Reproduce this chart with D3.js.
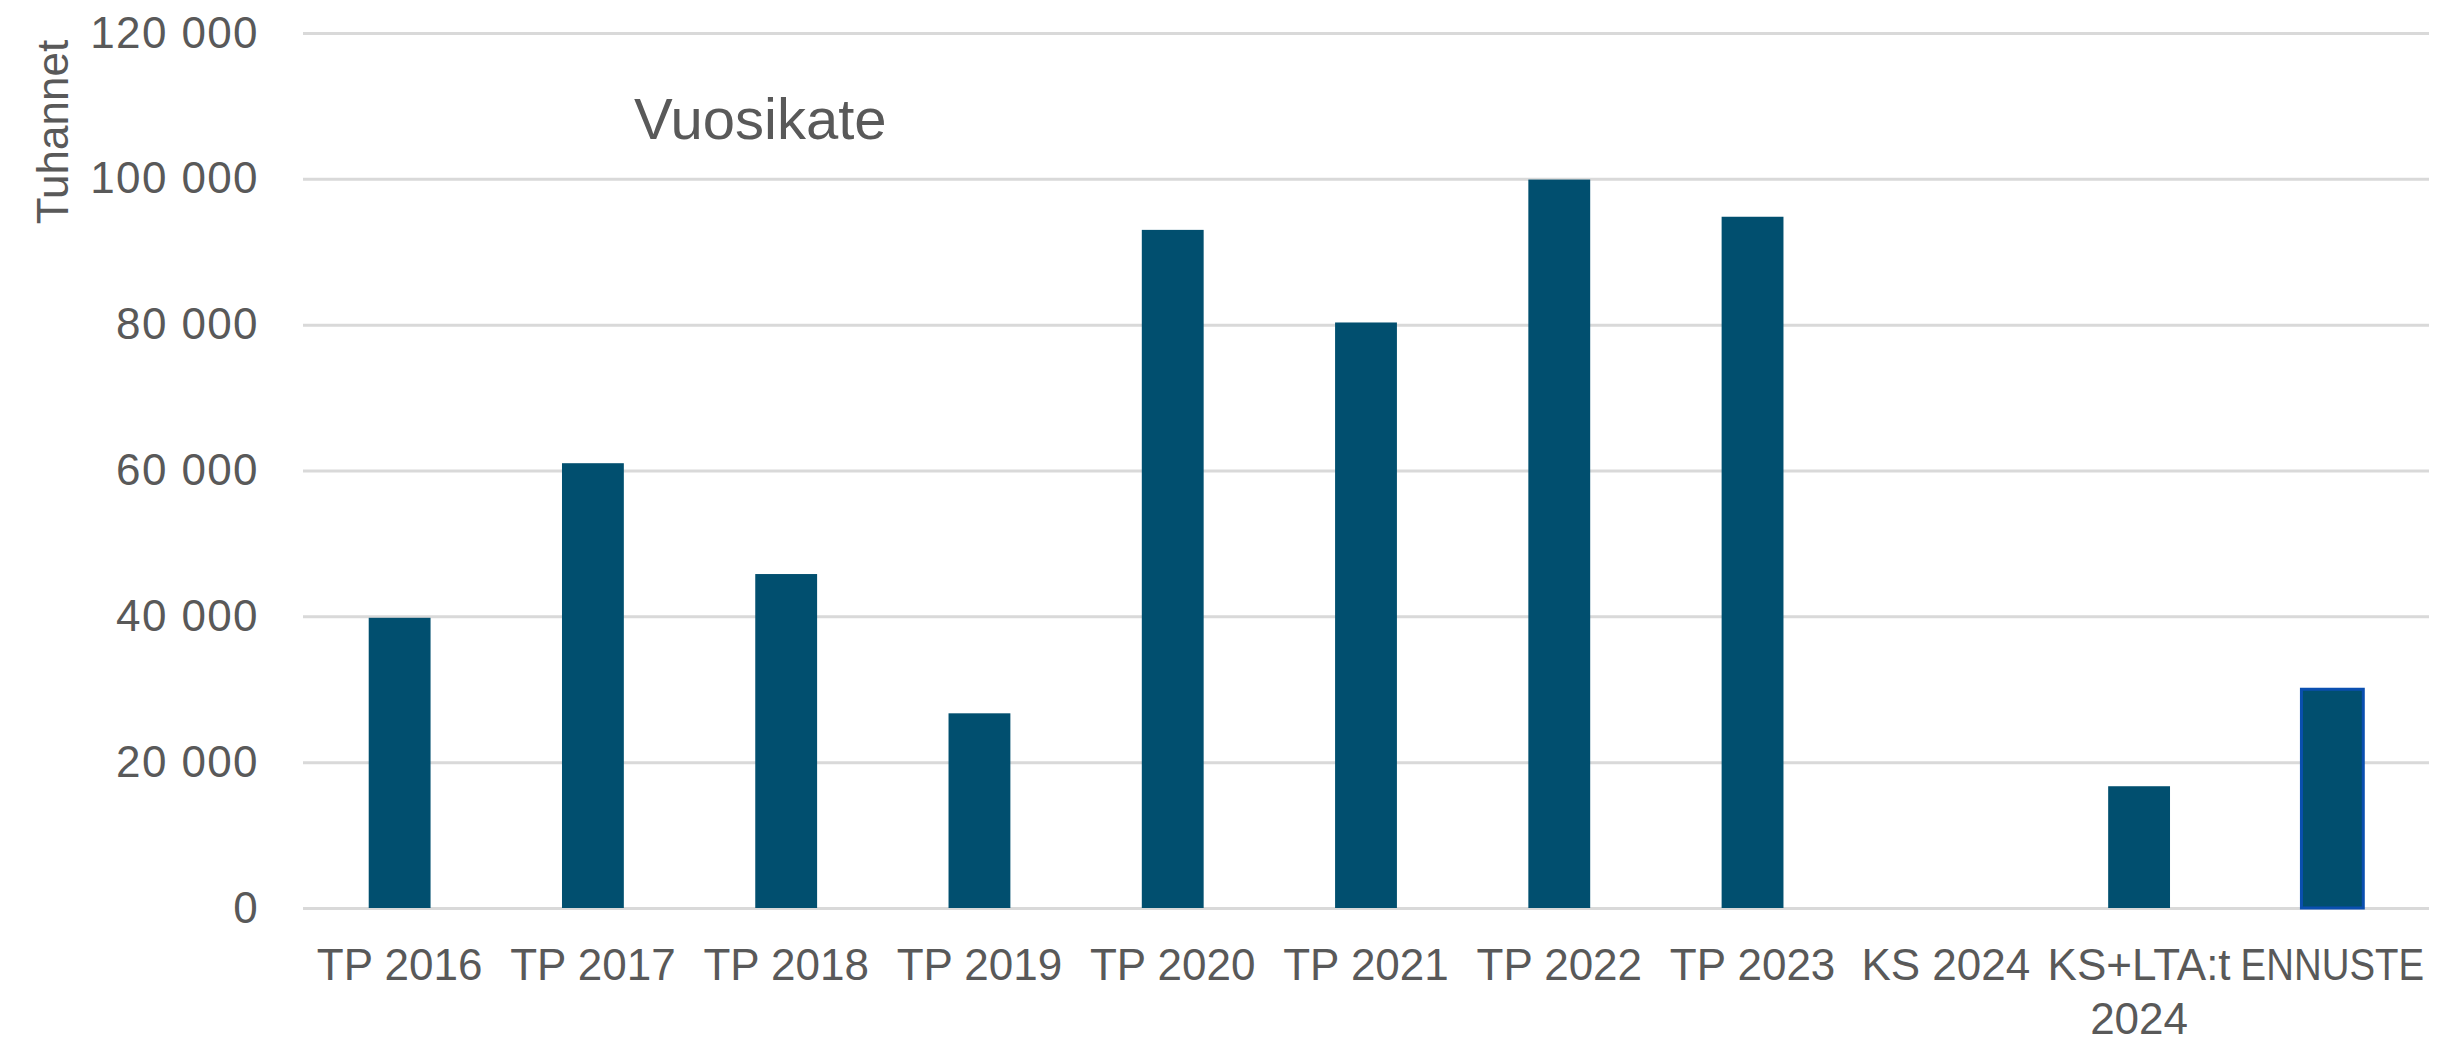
<!DOCTYPE html>
<html lang="fi">
<head>
<meta charset="utf-8">
<title>Vuosikate</title>
<script src="https://cdn.jsdelivr.net/npm/d3@7"></script>
<style>
  body { margin: 0; background: #fff; }
  text { font-family: "Liberation Sans", Arial, sans-serif; fill: #595959; }
  .grid line { stroke: #d9d9d9; stroke-width: 3; }
  .grid .domain { display: none; }
</style>
</head>
<body>
<div id="chart"></div>
<script>
// data (tuhatta euroa)
var categories = ["TP 2016", "TP 2017", "TP 2018", "TP 2019", "TP 2020", "TP 2021",
                  "TP 2022", "TP 2023", "KS 2024", "KS+LTA:t 2024", "ENNUSTE"];
var values = [39800, 61000, 45800, 26700, 93000, 80300, 99900, 94800, null, 16700, 30000];
var yTicks = [0, 20000, 40000, 60000, 80000, 100000, 120000];
var highlighted = ["ENNUSTE"];

var w = 2438, h = 1043;
var margin = {left: 303, right: 9, top: 33, bottom: 135};

var svg = d3.select("#chart").append("svg")
  .attr("width", w).attr("height", h);

var x = d3.scaleBand()
  .domain(categories)
  .range([margin.left, w - margin.right])
  .paddingInner(0.68)
  .paddingOuter(0.34);

var y = d3.scaleLinear()
  .domain([0, 120000])
  .range([h - margin.bottom, margin.top]);

var fmt = function(d) { return d3.format(",")(d).replace(/,/g, " "); };

// gridlines + y labels
var grid = svg.append("g")
  .attr("class", "grid")
  .attr("transform", "translate(" + margin.left + ",0)")
  .call(d3.axisLeft(y).tickValues(yTicks)
    .tickSize(-(w - margin.left - margin.right))
    .tickPadding(44)
    .tickFormat(fmt));
grid.selectAll("text")
  .style("font-size", "44px")
  .style("letter-spacing", "1.4px")
  .attr("fill", "#595959");

// bars
svg.append("g").selectAll("rect")
  .data(categories.map(function(c, i) { return {cat: c, val: values[i]}; })
        .filter(function(d) { return d.val != null; }))
  .enter().append("rect")
  .attr("x", function(d) { return x(d.cat); })
  .attr("y", function(d) { return y(d.val); })
  .attr("width", x.bandwidth())
  .attr("height", function(d) { return y(0) - y(d.val); })
  .attr("fill", "#014f6f")
  .attr("stroke", function(d) { return highlighted.indexOf(d.cat) >= 0 ? "#0a4fb0" : "none"; })
  .attr("stroke-width", 3);

// x labels: wrap on spaces if too wide, single words squeezed horizontally
var xAxis = svg.append("g")
  .attr("transform", "translate(0," + y(0) + ")")
  .call(d3.axisBottom(x).tickSize(0).tickPadding(0));
xAxis.select(".domain").remove();
xAxis.selectAll("text")
  .style("font-size", "44px")
  .attr("fill", "#595959")
  .attr("dy", null)
  .attr("y", 72)
  .each(function(d) {
    var t = d3.select(this);
    var words = d.split(" ");
    var maxW = x.step() * 0.95;
    var len = this.getComputedTextLength();
    if (len <= maxW) return;
    if (words.length > 1) {
      t.text(null);
      t.append("tspan").attr("x", 0).text(words.slice(0, -1).join(" "));
      t.append("tspan").attr("x", 0).attr("dy", 54).text(words[words.length - 1]);
    } else {
      t.attr("transform", "scale(" + (maxW / len).toFixed(3) + ",1)");
    }
  });

// y axis title
svg.append("text")
  .attr("transform", "translate(68,132) rotate(-90)")
  .attr("text-anchor", "middle")
  .style("font-size", "44px")
  .text("Tuhannet");

// chart title
svg.append("text")
  .attr("x", 634).attr("y", 139)
  .style("font-size", "58px")
  .text("Vuosikate");
</script>
</body>
</html>
